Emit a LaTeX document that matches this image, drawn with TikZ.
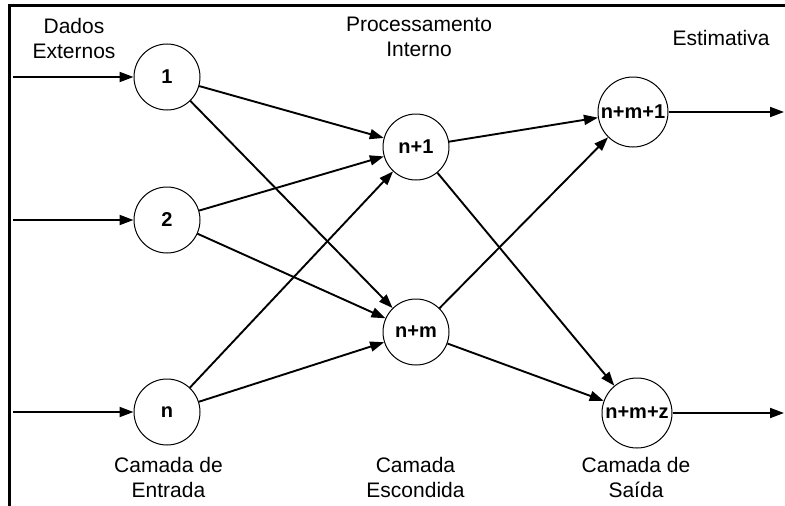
\documentclass[tikz,border=0pt]{standalone}
\usepackage{fontspec}
\setmainfont{Liberation Sans}
\usetikzlibrary{arrows.meta}
\begin{document}
\begin{tikzpicture}[x=1pt,y=-1pt,
  neuron/.style={circle,draw,line width=1pt,minimum size=66pt,inner sep=0pt,font=\fontsize{20}{23}\selectfont\bfseries},
  outneuron/.style={neuron,minimum size=70pt},
  link/.style={line width=1.9pt,-{Triangle[length=14pt,width=10pt]}},
  caption/.style={align=center,inner sep=0pt,font=\fontsize{21}{25}\selectfont}]
  \useasboundingbox (0,0) rectangle (785,506);
  % frame edges
  \draw[line width=3pt] (9,506) -- (9,5.5) -- (785,5.5);

  % input layer
  \node[neuron] (i1) at (167,77) {1};
  \node[neuron] (i2) at (167,220) {2};
  \node[neuron] (in) at (167,412) {n};
  % hidden layer
  \node[neuron] (h1) at (416,147) {n+1};
  \node[neuron] (hm) at (416,332) {n+m};
  % output layer
  \node[outneuron] (o1) at (633,112) {n+m+1};
  \node[outneuron] (oz) at (637,413) {n+m+z};

  % external inputs and outputs
  \coordinate (s1) at (13,77);
  \coordinate (s2) at (13,220);
  \coordinate (sn) at (13,412);
  \coordinate (e1) at (784,112);
  \coordinate (ez) at (784,413);
  \draw[link] (s1) -- (i1);
  \draw[link] (s2) -- (i2);
  \draw[link] (sn) -- (in);
  \draw[link] (o1) -- (e1);
  \draw[link] (oz) -- (ez);

  % input to hidden
  \foreach \a in {i1,i2,in}{
    \draw[link] (\a) -- (h1);
    \draw[link] (\a) -- (hm);
  }
  % hidden to output
  \foreach \a in {h1,hm}{
    \draw[link] (\a) -- (o1);
    \draw[link] (\a) -- (oz);
  }

  % labels
  \node[caption] (tin) at (74,38) {Dados\\Externos};
  \node[caption] (thid) at (419,37) {Processamento\\Interno};
  \node[caption] (tout) at (721,37.5) {Estimativa};
  \node[caption] (lin) at (168.5,477) {Camada de\\Entrada};
  \node[caption] (lhid) at (415.5,477) {Camada\\Escondida};
  \node[caption] (lout) at (636,477) {Camada de\\Saída};
\end{tikzpicture}
\end{document}
